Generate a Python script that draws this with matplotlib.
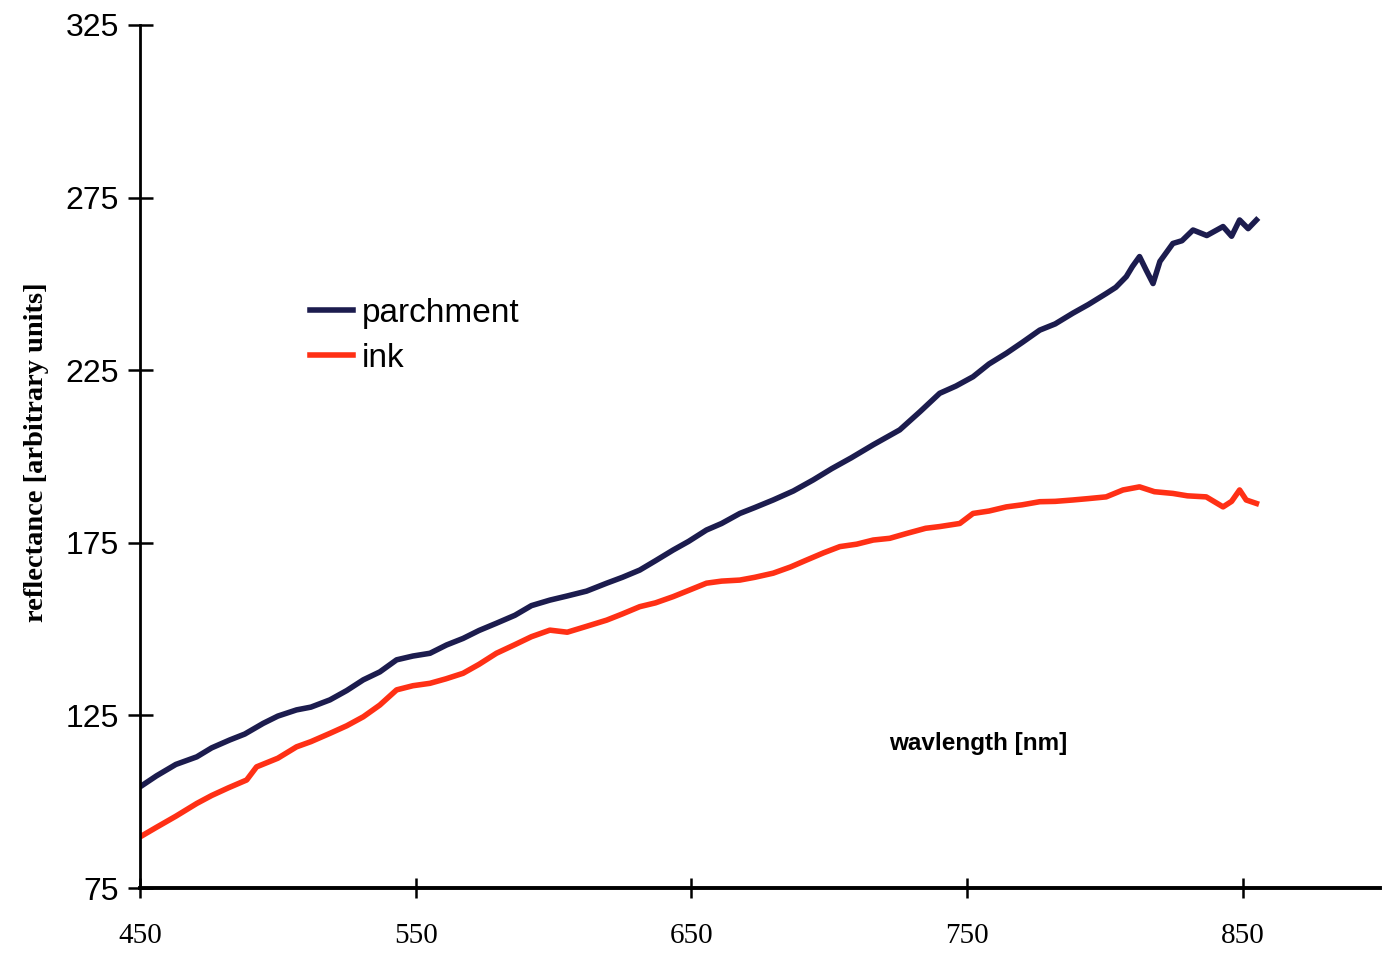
import matplotlib
matplotlib.use('Agg')
import matplotlib.pyplot as plt

# values (wavelength nm -> reflectance)
parch_wl = [450, 456, 463, 470.6, 476, 482.6, 488, 494.7, 500, 506.8, 512, 518.9, 525, 531,
            537, 543.1, 549, 555.2, 561.2, 567.2, 573, 579.3, 586, 592, 598.7, 605, 612,
            619.3, 625, 631.3, 637, 643.4, 649, 655.5, 661, 667.6, 673, 679.7, 687, 694.2,
            701, 708, 716, 725.6, 733, 740.1, 746, 752.2, 758, 764.3, 770, 776.4, 782,
            788.4, 794, 800.5, 804, 807.8, 810, 812.6, 815, 817.5, 820, 824.7, 828, 832,
            837, 842.9, 846, 848.9, 852, 855]
parchment = [104.3, 107.5, 110.8, 113.0, 115.6, 117.9, 119.6, 122.7, 124.8, 126.6, 127.4, 129.5,
             132.2, 135.3, 137.6, 141.1, 142.2, 143.0, 145.4, 147.3, 149.6, 151.7, 154.0, 156.8,
             158.4, 159.6, 161.0, 163.3, 165.0, 167.1, 169.8, 172.9, 175.4, 178.7, 180.6, 183.5,
             185.2, 187.4, 190.0, 193.2, 196.5, 199.6, 203.4, 207.7, 213.0, 218.3, 220.4, 223.1,
             226.8, 229.9, 233.0, 236.6, 238.4, 241.5, 244.0, 247.2, 249.0, 252.1, 255.0, 257.9,
             254.0, 250.1, 256.5, 261.7, 262.5, 265.6, 264.0, 266.6, 263.8, 268.5, 266.0, 268.5]

ink_wl = [450, 456, 463, 470.6, 476, 482, 488.7, 492.3, 500, 506.8, 512, 518.9, 525, 531,
          537, 543.1, 549, 555.2, 561, 567.2, 573, 579.3, 586, 592, 598.7, 605, 612, 619.3,
          625, 631.3, 637, 643.4, 649, 655.5, 661, 667.6, 673, 679.7, 686, 691.8, 698, 703.9,
          710, 716, 722, 728.1, 735, 740.1, 747.4, 752.2, 758, 764.3, 770, 776.4, 782, 788.4,
          794, 800.5, 806.6, 812.6, 818, 824.7, 830, 836.8, 842.9, 846, 848.9, 851.3, 855]
ink = [89.8, 92.6, 95.8, 99.5, 101.8, 104.0, 106.3, 110.1, 112.6, 115.9, 117.4, 119.8, 122.0,
       124.6, 128.0, 132.4, 133.6, 134.3, 135.6, 137.2, 139.8, 143.0, 145.5, 147.8, 149.7,
       149.1, 150.8, 152.6, 154.4, 156.5, 157.6, 159.4, 161.2, 163.3, 163.9, 164.2, 165.0,
       166.2, 168.0, 170.0, 172.1, 173.9, 174.6, 175.8, 176.3, 177.7, 179.2, 179.7, 180.6,
       183.5, 184.2, 185.4, 186.0, 186.9, 187.0, 187.4, 187.8, 188.3, 190.3, 191.2, 189.8,
       189.3, 188.6, 188.3, 185.4, 187.0, 190.3, 187.4, 186.4]

x_ticks = [450, 550, 650, 750, 850]
y_ticks = [75, 125, 175, 225, 275, 325]

fig = plt.figure(figsize=(13.86, 9.59), dpi=100)
ax = fig.add_axes([0.101, 0.074, 0.895, 0.900])

ax.plot(parch_wl, parchment, color='#1c1c4e', lw=4, label='parchment')
ax.plot(ink_wl, ink, color='#ff3015', lw=4, label='ink')

ax.set_xlim(450, 900)
ax.set_ylim(75, 325)
ax.set_xticks(x_ticks)
ax.set_yticks(y_ticks)

for s in ['top', 'right']:
    ax.spines[s].set_visible(False)
ax.spines['left'].set_linewidth(2.0)
ax.spines['bottom'].set_linewidth(2.8)

ax.tick_params(axis='y', direction='inout', length=18, width=1.8, pad=6,
               labelsize=23, labelfontfamily='Liberation Sans')
ax.tick_params(axis='x', direction='inout', length=15, width=1.8, pad=18,
               labelsize=21, labelfontfamily='Liberation Serif')

fig.text(0.026, 0.528, 'reflectance [arbitrary units]', rotation=90, ha='center', va='center',
         fontsize=20.5, fontweight='bold', family='Liberation Serif')
ax.text(754, 117, 'wavlength [nm]', ha='center', va='center', fontsize=17.5,
        fontweight='bold', family='Liberation Sans')

leg = ax.legend(loc='upper left', bbox_to_anchor=(0.137, 0.684), frameon=False,
                borderpad=0, borderaxespad=0, handlelength=1.3, handletextpad=0.25,
                labelspacing=0.42, prop={'family': 'Liberation Sans', 'size': 24})

fig.savefig('out.png', dpi=100)
